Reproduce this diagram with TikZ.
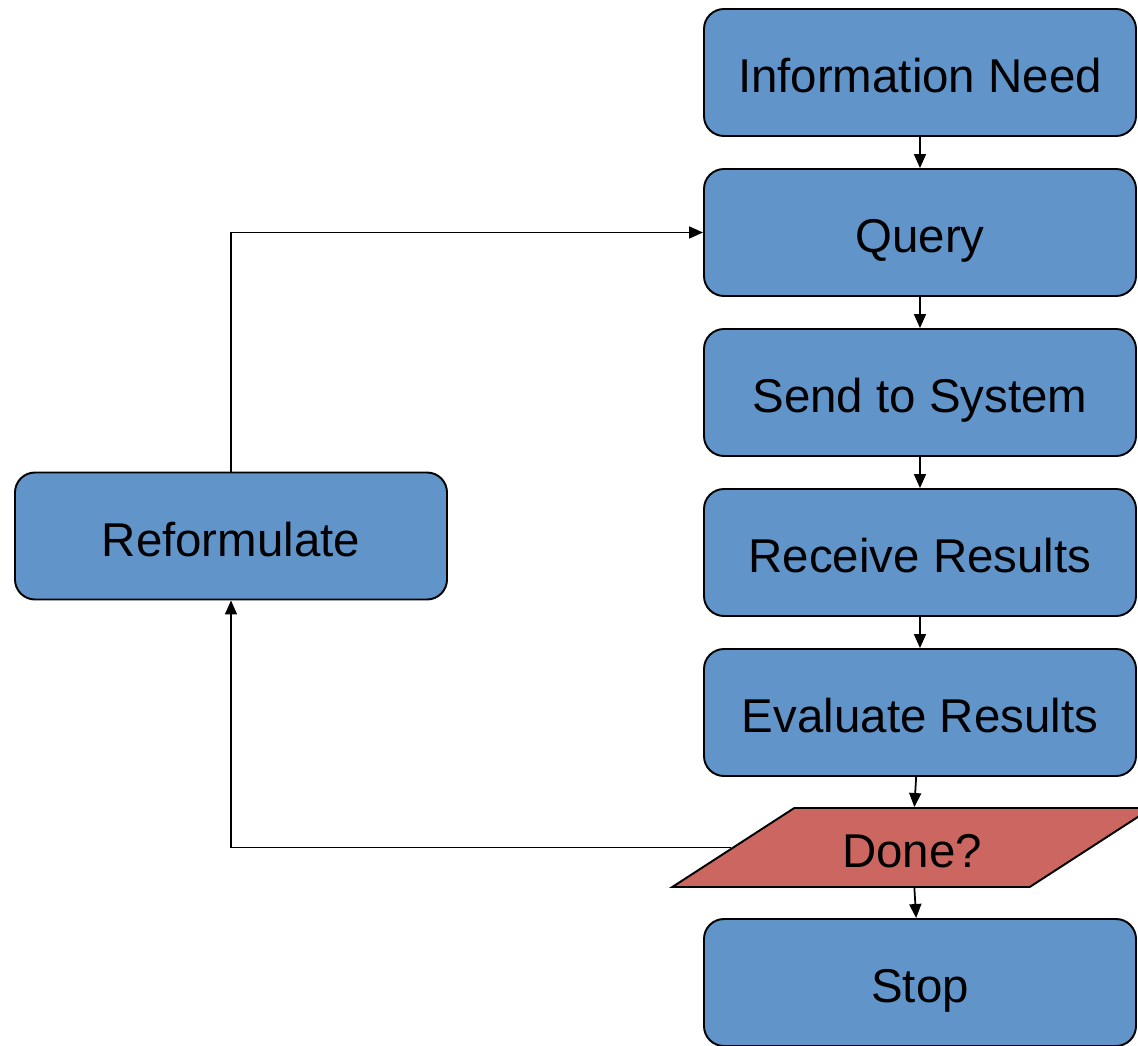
\documentclass[tikz,border=0pt]{standalone}
\usepackage{fontspec}
\setmainfont{Liberation Sans}
\usetikzlibrary{shapes.geometric,arrows.meta}
\definecolor{boxblue}{RGB}{97,149,201}
\definecolor{donered}{RGB}{204,102,96}

\begin{document}
\begin{tikzpicture}[scale=0.2]
\tikzstyle{every node}+=[inner sep=0pt, text height=0.8cm, text depth=0cm, font=\fontsize{27}{32}\selectfont]
\tikzstyle{stepbox}=[draw=black, line width=1.1pt, fill=boxblue, rounded corners=0.4cm, minimum width=8.64cm, minimum height=2.54cm]
\tikzstyle{decide}=[draw=black, line width=1.1pt, fill=donered, trapezium, trapezium left angle=28.9, trapezium right angle=151.1, trapezium stretches=true, minimum width=9.6cm, minimum height=1.58cm]
\tikzstyle{link}=[black, line width=1pt, -{Triangle[length=0.28cm,width=0.24cm]}]
\useasboundingbox (0,0) rectangle (113.8,-104.6);
\node [stepbox] (need) at (92,-7.25) {Information Need};
\node [stepbox] (query) at (92,-23.25) {Query};
\node [stepbox] (send) at (92,-39.25) {Send to System};
\node [stepbox] (receive) at (92,-55.25) {Receive Results};
\node [stepbox] (evaluate) at (92,-71.25) {Evaluate Results};
\node [decide] (done) at (91.2,-84.75) {Done?};
\node [stepbox] (stop) at (92,-98.25) {Stop};
\node [stepbox] (reform) at (23.1,-53.6) {Reformulate};
\draw [link] (need) -- (query);
\draw [link] (query) -- (send);
\draw [link] (send) -- (receive);
\draw [link] (receive) -- (evaluate);
\draw [link] (evaluate) -- (done);
\draw [link] (done) -- (stop);
\draw [link] (done.west) -| (reform.south);
\draw [link] (reform.north) |- (query.west);
\end{tikzpicture}
\end{document}
